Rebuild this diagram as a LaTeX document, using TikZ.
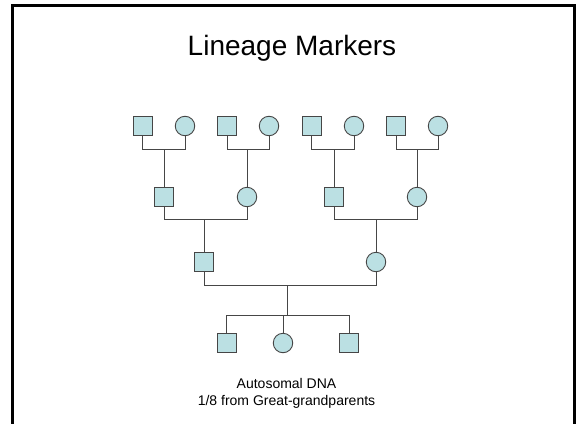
\documentclass[tikz,border=0pt]{standalone}
\usepackage{fontspec}
\setmainfont{Liberation Sans}
\definecolor{pedfill}{RGB}{187,224,227}
\definecolor{pedline}{RGB}{70,70,70}
\begin{document}
\begin{tikzpicture}[x=1pt,y=-1pt,
  male/.style={draw=pedline,fill=pedfill,line width=0.9pt,minimum size=19pt,inner sep=0pt,rectangle},
  female/.style={draw=pedline,fill=pedfill,line width=0.9pt,minimum size=19.5pt,inner sep=0pt,circle},
  link/.style={draw=pedline,line width=1pt},
  frameline/.style={draw=black,line width=3pt}]
\useasboundingbox (0,0) rectangle (577,423);
\draw[frameline] (12.5,430) -- (12.5,5.5) -- (574.5,5.5) -- (574.5,430);
\node[anchor=base,font=\fontsize{28}{34}\selectfont] (title) at (292,55) {Lineage Markers};
% row 1
\node[male]   (a1) at (142.5,126) {};
\node[female] (a2) at (185,126) {};
\node[male]   (a3) at (227,126) {};
\node[female] (a4) at (269,126) {};
\node[male]   (a5) at (311.7,126) {};
\node[female] (a6) at (354,126) {};
\node[male]   (a7) at (396,126) {};
\node[female] (a8) at (438,126) {};
% row 2
\node[male]   (b1) at (164,197) {};
\node[female] (b2) at (247,197) {};
\node[male]   (b3) at (334,197) {};
\node[female] (b4) at (417,197) {};
% row 3
\node[male]   (c1) at (204,262) {};
\node[female] (c2) at (376,262) {};
% children
\node[male]   (d1) at (226.5,343) {};
\node[female] (d2) at (283,343) {};
\node[male]   (d3) at (349,343) {};
% connectors row 1
\draw[link] (a1.south) -- ++(0,14) coordinate (m1) -| (a2.south);
\draw[link] (b1.north) -- (b1.north |- m1);
\draw[link] (a3.south) -- ++(0,14) coordinate (m2) -| (a4.south);
\draw[link] (b2.north) -- (b2.north |- m2);
\draw[link] (a5.south) -- ++(0,14) coordinate (m3) -| (a6.south);
\draw[link] (b3.north) -- (b3.north |- m3);
\draw[link] (a7.south) -- ++(0,14) coordinate (m4) -| (a8.south);
\draw[link] (b4.north) -- (b4.north |- m4);
% connectors row 2
\draw[link] (b1.south) -- ++(0,13) coordinate (n1) -| (b2.south);
\draw[link] (c1.north) -- (c1.north |- n1);
\draw[link] (b3.south) -- ++(0,13) coordinate (n2) -| (b4.south);
\draw[link] (c2.north) -- (c2.north |- n2);
% connectors row 3
\draw[link] (c1.south) -- ++(0,13.5) coordinate (p1) -| (c2.south);
\coordinate (p2) at (287,285.5);
\coordinate (q1) at (287,315.3);
\draw[link] (p2) -- (q1);
\draw[link] (d1.north) |- (q1) -| (d3.north);
\draw[link] (d2.north) -- (d2.north |- q1);
% caption
\node[anchor=base,font=\fontsize{14}{17}\selectfont] (cap1) at (286.5,388) {Autosomal DNA};
\node[anchor=base,font=\fontsize{14}{17}\selectfont] (cap2) at (286.5,405) {1/8 from Great-grandparents};
\end{tikzpicture}
\end{document}
